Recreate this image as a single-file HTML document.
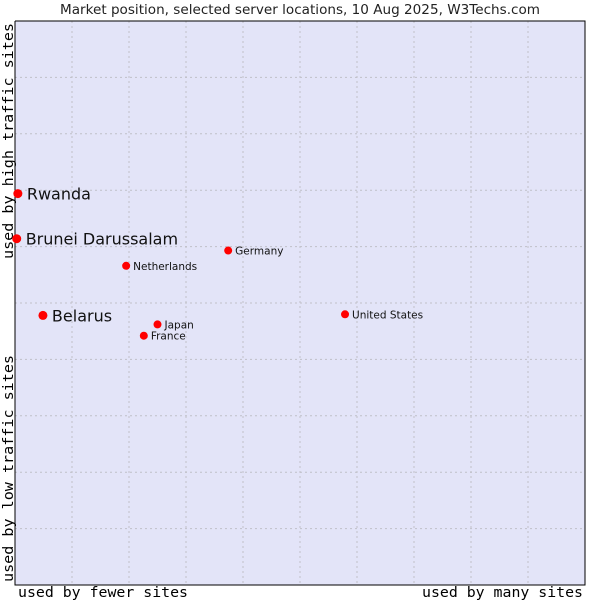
<!DOCTYPE html>
<html><head><meta charset="utf-8"><style>
body{margin:0;background:#fff;}
svg{display:block;font-family:"DejaVu Sans","Liberation Sans",sans-serif;}
</style></head><body>
<svg id="chart" width="600" height="600">
<text x="60" y="14" textLength="480" lengthAdjust="spacingAndGlyphs" font-size="13" fill="#222">Market position, selected server locations, 10 Aug 2025, W3Techs.com</text>
<rect x="15" y="21" width="570" height="564" fill="#e3e4f8"/>
<g id="grid"></g>
<path d="M15 21V585H585V21H15" fill="none" stroke="#000" stroke-width="1"/>
<text x="18" y="597" textLength="170" lengthAdjust="spacingAndGlyphs" font-family="DejaVu Sans Mono,Liberation Mono,monospace" font-size="14">used by fewer sites</text>
<text x="422" y="597" textLength="161" lengthAdjust="spacingAndGlyphs" font-family="DejaVu Sans Mono,Liberation Mono,monospace" font-size="14">used by many sites</text>
<text transform="translate(13,582) rotate(-90)" textLength="227" lengthAdjust="spacingAndGlyphs" font-family="DejaVu Sans Mono,Liberation Mono,monospace" font-size="14">used by low traffic sites</text>
<text transform="translate(13,259) rotate(-90)" textLength="236" lengthAdjust="spacingAndGlyphs" font-family="DejaVu Sans Mono,Liberation Mono,monospace" font-size="14">used by high traffic sites</text>
<g id="points"></g>
</svg>
<script>
const countries=["Rwanda","Brunei Darussalam","Belarus","Netherlands","Germany","United States","Japan","France"];
const xValues=[0.5,0.3,4.9,19.5,37.4,57.9,25.0,22.6];
const yValues=[69.4,61.4,47.8,56.6,59.3,48.0,46.2,44.2];
const big=[true,true,true,false,false,false,false,false];
const X0=15,X1=585,Y0=585,Y1=21;
const sx=v=>X0+v/100*(X1-X0);
const sy=v=>Y0-v/100*(Y0-Y1);
const NS="http://www.w3.org/2000/svg";
const grid=document.getElementById('grid');
for(let i=1;i<10;i++){
  const v=document.createElementNS(NS,'line');
  
  
  v.setAttribute('x1',sx(i*10));v.setAttribute('x2',sx(i*10));v.setAttribute('y1',Y1);v.setAttribute('y2',Y0);
  v.setAttribute('stroke','#c0c0c8');v.setAttribute('stroke-dasharray','2,3');
  grid.appendChild(v);
  const h=document.createElementNS(NS,'line');
  
  
  h.setAttribute('y1',sy(i*10));h.setAttribute('y2',sy(i*10));h.setAttribute('x1',X0);h.setAttribute('x2',X1);
  h.setAttribute('stroke','#c0c0c8');h.setAttribute('stroke-dasharray','2,3');
  grid.appendChild(h);
}
const pts=document.getElementById('points');
countries.forEach((c,i)=>{
  const x=sx(xValues[i]),y=sy(yValues[i]);
  const p=document.createElementNS(NS,'circle');
  
  
  p.setAttribute('cx',x);p.setAttribute('cy',y);p.setAttribute('r',big[i]?4.5:4);p.setAttribute('fill','#f00');
  pts.appendChild(p);
  const t=document.createElementNS(NS,'text');
  
  
  t.setAttribute('x',x+(big[i]?9:7));t.setAttribute('y',y+(big[i]?6:4));
  t.setAttribute('font-size',big[i]?16:10.5);t.setAttribute('fill','#111');
  t.textContent=c;
  pts.appendChild(t);
});
</script>
</body></html>
